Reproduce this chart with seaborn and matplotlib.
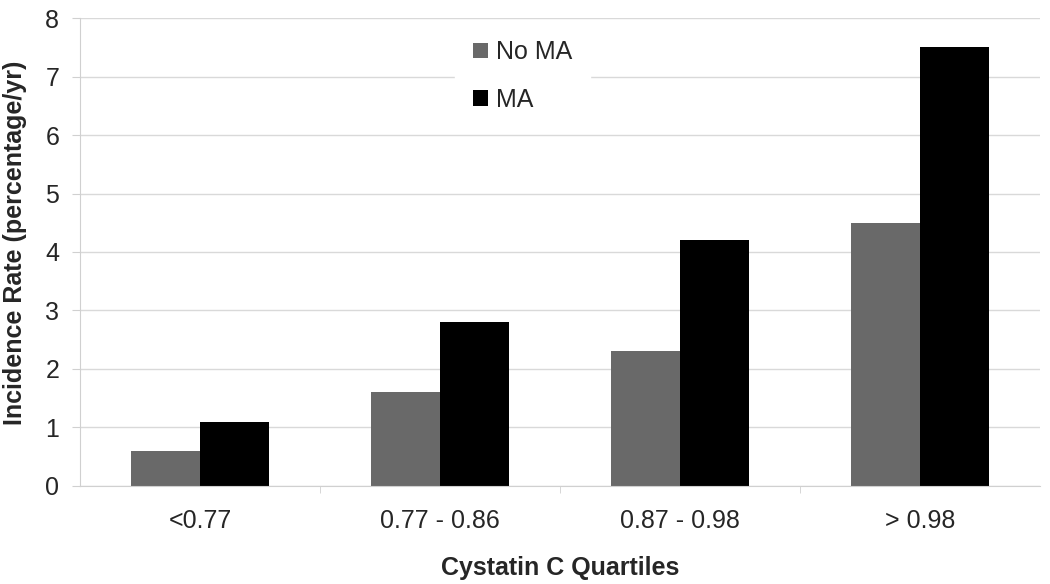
import pandas as pd
import numpy as np
import matplotlib
matplotlib.use('Agg')
import matplotlib.pyplot as plt
import seaborn as sns

# 데이터
quartiles = ['<0.77', '0.77 - 0.86', '0.87 - 0.98', '> 0.98']
no_ma = [0.6, 1.6, 2.3, 4.5]
ma = [1.1, 2.8, 4.2, 7.5]

df = pd.DataFrame({
    'quartile': quartiles * 2,
    'rate': no_ma + ma,
    'group': ['No MA'] * 4 + ['MA'] * 4,
})

sns.set_style('white')
plt.rcParams['font.family'] = ['Liberation Sans', 'DejaVu Sans']

fig = plt.figure(figsize=(10.5, 5.84), dpi=100)
ax = fig.add_axes([0.0762, 0.168, 0.914, 0.801])

sns.barplot(data=df, x='quartile', y='rate', hue='group', order=quartiles,
            hue_order=['No MA', 'MA'], palette=['#696969', '#000000'],
            width=0.575, saturation=1, linewidth=0, ax=ax, zorder=2)

ax.set_ylim(0, 8)
ax.set_xlim(-0.5, 3.5)
ax.set_yticks(range(0, 9))
ax.yaxis.grid(True, color='#d9d9d9', linewidth=1, zorder=0)
ax.set_axisbelow(True)

for s in ['top', 'right']:
    ax.spines[s].set_visible(False)
ax.spines['left'].set_color('#d0d0d0')
ax.spines['bottom'].set_color('#d0d0d0')

ax.tick_params(axis='y', length=6, color='#d0d0d0', labelsize=18, pad=9, left=True)
ax.set_xticks(range(4))
ax.set_xticklabels(quartiles)
ax.set_xticks(np.arange(0.5, 3.5, 1), minor=True)
ax.tick_params(axis='x', which='major', length=0, labelsize=18, pad=17)
ax.tick_params(axis='x', which='minor', length=5, color='#d0d0d0', bottom=True)

ax.set_xlabel('Cystatin C Quartiles', fontsize=18, fontweight='bold', labelpad=16)
ax.set_ylabel('Incidence Rate (percentage/yr)', fontsize=18, fontweight='bold')
ax.yaxis.set_label_coords(-0.055, 0.52)

leg = ax.legend(loc='upper left', bbox_to_anchor=(0.399, 0.974), frameon=True,
                fontsize=18, handlelength=0.6, handleheight=0.6, handletextpad=0.32,
                labelspacing=0.95, borderpad=0.4, borderaxespad=0)
leg.get_frame().set_facecolor('white')
leg.get_frame().set_edgecolor('white')
leg.get_frame().set_alpha(1)
leg.get_frame().set_boxstyle('square')
leg.set_title(None)

fig.savefig('out.png', dpi=100)
